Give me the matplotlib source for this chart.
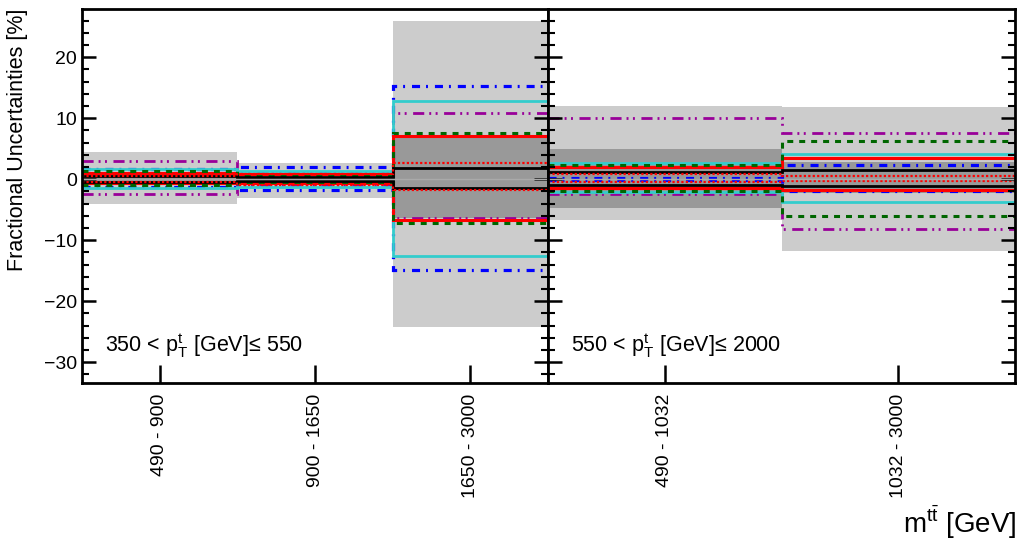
import numpy as np
import matplotlib
matplotlib.use('Agg')
import matplotlib.pyplot as plt
from matplotlib.ticker import MultipleLocator

plt.rcParams['font.family'] = ['Liberation Sans', 'DejaVu Sans']
plt.rcParams['lines.scale_dashes'] = False

# Bins: first 3 belong to 350 < pT <= 550, last 2 to 550 < pT <= 2000
mtt_labels = ['490 - 900', '900 - 1650', '1650 - 3000', '490 - 1032', '1032 - 3000']
n_first = 3
panel_texts = [r'350 < $\mathregular{p_{T}^{t}}$ [GeV]≤ 550',
               r'550 < $\mathregular{p_{T}^{t}}$ [GeV]≤ 2000']

# Fractional uncertainties [%] per bin (up / down)
total_up = [4.4, 2.7, 26.0, 12.0, 11.9]
total_down = [-4.1, -3.0, -24.2, -6.7, -11.8]
stat_up = [0.5, 0.4, 6.9, 5.0, 2.8]
stat_down = [-0.5, -0.4, -6.4, -4.7, -2.3]
black_up = [0.5, 0.3, 1.9, 1.2, 1.5]
black_down = [-0.4, -0.3, -1.5, -0.9, -1.1]
reddot_up = [0.6, 0.9, 2.6, 0.8, 0.6]
reddot_down = [-0.5, -1.0, -1.7, -0.5, -0.3]
red_up = [1.0, 0.8, 7.1, 2.0, 3.5]
red_down = [-0.7, -0.7, -6.7, -1.4, -1.7]
green_up = [1.4, 0.5, 7.6, 2.4, 6.2]
green_down = [-1.0, -0.5, -7.2, -2.0, -6.0]
cyan_up = [1.75, 1.3, 12.8, 2.7, 4.2]
cyan_down = [-1.4, -1.3, -12.6, -2.1, -3.7]
blue_up = [1.6, 2.0, 15.3, 0.15, 2.4]
blue_down = [-1.2, -1.7, -14.9, -0.1, -2.0]
purple_up = [3.0, 1.0, 10.9, 10.1, 7.5]
purple_down = [-2.5, -0.9, -6.4, -2.5, -8.2]

line_sets = [
    (purple_up, purple_down, '#990099', 2.0, (0, (8, 3.6, 1.4, 3.2, 1.4, 4.7))),
    (blue_up, blue_down, '#0000ff', 2.3, (0, (5.8, 4.3, 1.4, 5))),
    (cyan_up, cyan_down, '#33cccc', 2.0, '-'),
    (red_up, red_down, '#ff0000', 2.2, '-'),
    (green_up, green_down, '#006600', 2.2, (0, (4.3, 4.3))),
    (black_up, black_down, 'black', 2.0, '-'),
    (reddot_up, reddot_down, '#ff0000', 1.6, (0, (1.6, 1.6))),
]

fig = plt.figure(figsize=(10.22, 5.44), dpi=100)
ax_bottom = 1 - 383 / 544
ax_height = 374 / 544
axL = fig.add_axes([82 / 1022, ax_bottom, 466 / 1022, ax_height])
axR = fig.add_axes([548 / 1022, ax_bottom, 467 / 1022, ax_height])

for ax, sl, label in [(axL, slice(0, n_first), panel_texts[0]),
                      (axR, slice(n_first, None), panel_texts[1])]:
    nb = len(mtt_labels[sl])
    edges = np.arange(nb + 1)
    # uncertainty bands
    ax.stairs(total_up[sl], edges, baseline=total_down[sl], fill=True,
              color='#cccccc', lw=0)
    ax.stairs(stat_up[sl], edges, baseline=stat_down[sl], fill=True,
              color='#999999', lw=0)
    ax.axhline(0, color='#aaaaaa', lw=1)
    for up, down, col, lw, ls in line_sets:
        ax.stairs(up[sl], edges, baseline=None, color=col, lw=lw, linestyle=ls)
        ax.stairs(down[sl], edges, baseline=None, color=col, lw=lw, linestyle=ls)

    ax.set_xlim(0, nb)
    ax.set_ylim(-33.4, 27.9)
    ax.set_xticks(edges[:-1] + 0.5)
    ax.set_xticklabels(mtt_labels[sl], rotation=90, fontsize=14)
    ax.yaxis.set_major_locator(MultipleLocator(10))
    ax.yaxis.set_minor_locator(MultipleLocator(2))
    ax.tick_params(axis='y', which='major', direction='in', length=10, width=1.8,
                   left=True, right=True, labelsize=14)
    ax.tick_params(axis='y', which='minor', direction='in', length=5, width=1.5,
                   left=True, right=True)
    ax.tick_params(axis='x', which='major', direction='in', length=13, width=1.8,
                   top=False, pad=8)
    for sp in ax.spines.values():
        sp.set_linewidth(2)
    ax.text(0.05, 0.10, label, transform=ax.transAxes, fontsize=15.5,
            ha='left', va='center')

axR.tick_params(axis='y', labelleft=False)

fig.text(18 / 1022, 1 - 140 / 544, 'Fractional Uncertainties [%]', rotation=90,
         ha='center', va='center', fontsize=15.5)
fig.text(1017 / 1022, 1 - 522 / 544, r'$\mathregular{m^{t\bar{t}}}$ [GeV]',
         ha='right', va='center', fontsize=20)

fig.savefig('out.png', dpi=100)
